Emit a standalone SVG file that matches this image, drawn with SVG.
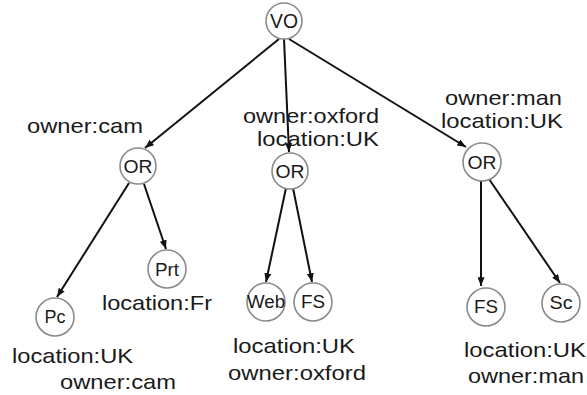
<svg xmlns="http://www.w3.org/2000/svg" width="587" height="395" viewBox="0 0 587 395">
  <style>
    .node circle { fill: #fff; stroke: #8a8a8a; stroke-width: 1.6; }
    .node text { font-family: "Liberation Sans", Arial, sans-serif; fill: #1a1a1a; text-anchor: middle; }
    .edge { stroke: #111; stroke-width: 2; fill: none; marker-end: url(#arrow); }
    .attr { font-family: "Liberation Sans", Arial, sans-serif; font-size: 21px; fill: #1a1a1a; }
  </style>
  <defs>
    <marker id="arrow" viewBox="0 0 10 8" refX="10" refY="4" markerWidth="9" markerHeight="7" markerUnits="userSpaceOnUse" orient="auto">
      <path d="M0,0 L10,4 L0,8 z" fill="#111"/>
    </marker>
  </defs>
  <rect width="587" height="395" fill="#fff"/>

  <!-- connectors -->
  <g id="connectors">
    <line class="edge" x1="279" y1="39" x2="145" y2="148"/>
    <line class="edge" x1="284" y1="39" x2="289" y2="152"/>
    <line class="edge" x1="289" y1="39" x2="466" y2="147"/>
    <line class="edge" x1="129" y1="183" x2="57" y2="297"/>
    <line class="edge" x1="144" y1="184" x2="166" y2="249"/>
    <line class="edge" x1="286" y1="188" x2="266" y2="282"/>
    <line class="edge" x1="293" y1="188" x2="312" y2="282"/>
    <line class="edge" x1="481" y1="181" x2="481" y2="286"/>
    <line class="edge" x1="489" y1="179" x2="560" y2="283"/>
  </g>

  <!-- nodes -->
  <g id="n-vo" class="node"><circle cx="284" cy="21" r="18"/><text x="284" y="28" font-size="20" textLength="28" lengthAdjust="spacingAndGlyphs">VO</text></g>
  <g id="n-or-cam" class="node"><circle cx="138" cy="166" r="18"/><text x="138" y="173" font-size="19" textLength="29" lengthAdjust="spacingAndGlyphs">OR</text></g>
  <g id="n-or-oxford" class="node"><circle cx="290" cy="171" r="18"/><text x="290" y="178" font-size="19" textLength="29" lengthAdjust="spacingAndGlyphs">OR</text></g>
  <g id="n-or-man" class="node"><circle cx="482" cy="162" r="19"/><text x="482" y="169" font-size="19" textLength="29" lengthAdjust="spacingAndGlyphs">OR</text></g>
  <g id="n-pc" class="node"><circle cx="55" cy="317" r="19"/><text x="55" y="323" font-size="18" textLength="21" lengthAdjust="spacingAndGlyphs">Pc</text></g>
  <g id="n-prt" class="node"><circle cx="167" cy="269" r="19"/><text x="167" y="276" font-size="18" textLength="24" lengthAdjust="spacingAndGlyphs">Prt</text></g>
  <g id="n-web" class="node"><circle cx="266" cy="302" r="19"/><text x="266" y="308" font-size="18" textLength="38" lengthAdjust="spacingAndGlyphs">Web</text></g>
  <g id="n-fs-oxford" class="node"><circle cx="313" cy="302" r="19"/><text x="313" y="308" font-size="18" textLength="24" lengthAdjust="spacingAndGlyphs">FS</text></g>
  <g id="n-fs-man" class="node"><circle cx="486" cy="307" r="19"/><text x="486" y="313" font-size="18" textLength="24" lengthAdjust="spacingAndGlyphs">FS</text></g>
  <g id="n-sc" class="node"><circle cx="561" cy="303" r="19"/><text x="561" y="309" font-size="18" textLength="23" lengthAdjust="spacingAndGlyphs">Sc</text></g>

  <!-- attribute labels -->
  <g id="labels">
    <text class="attr" x="27" y="133" textLength="116" lengthAdjust="spacingAndGlyphs">owner:cam</text>
    <text class="attr" x="243" y="123" textLength="136" lengthAdjust="spacingAndGlyphs">owner:oxford</text>
    <text class="attr" x="257" y="146" textLength="122" lengthAdjust="spacingAndGlyphs">location:UK</text>
    <text class="attr" x="445" y="105" textLength="117" lengthAdjust="spacingAndGlyphs">owner:man</text>
    <text class="attr" x="441" y="128" textLength="122" lengthAdjust="spacingAndGlyphs">location:UK</text>
    <text class="attr" x="102" y="310" textLength="110" lengthAdjust="spacingAndGlyphs">location:Fr</text>
    <text class="attr" x="12" y="363" textLength="121" lengthAdjust="spacingAndGlyphs">location:UK</text>
    <text class="attr" x="60" y="389" textLength="116" lengthAdjust="spacingAndGlyphs">owner:cam</text>
    <text class="attr" x="233" y="353" textLength="122" lengthAdjust="spacingAndGlyphs">location:UK</text>
    <text class="attr" x="228" y="380" textLength="138" lengthAdjust="spacingAndGlyphs">owner:oxford</text>
    <text class="attr" x="464" y="357" textLength="122" lengthAdjust="spacingAndGlyphs">location:UK</text>
    <text class="attr" x="468" y="383" textLength="116" lengthAdjust="spacingAndGlyphs">owner:man</text>
  </g>
</svg>
